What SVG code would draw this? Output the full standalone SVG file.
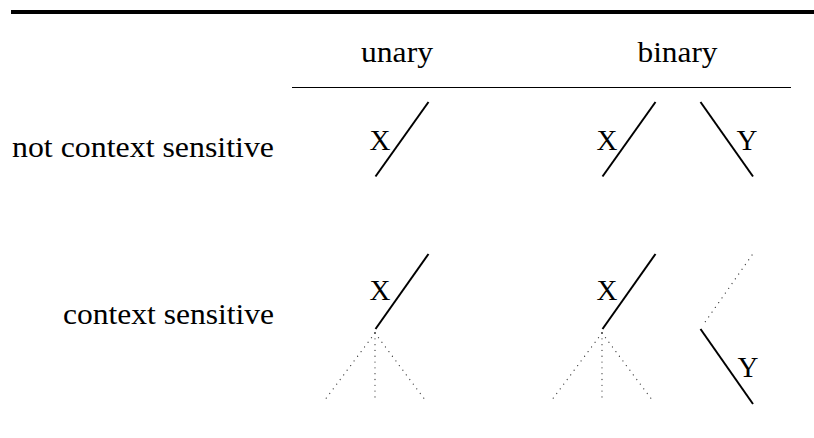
<svg xmlns="http://www.w3.org/2000/svg" width="814" height="438" viewBox="0 0 814 438">
<style>
text{font-family:"Liberation Serif","DejaVu Serif",serif;font-size:29px;fill:#000}
.solid{stroke:#000;stroke-width:2;fill:none;stroke-linecap:butt}
.dot{stroke:#000;stroke-width:1.3;fill:none;stroke-dasharray:0.01 5.8;stroke-linecap:round;opacity:0.75}
.rule{stroke:#000;fill:none}
</style>
<rect width="814" height="438" fill="#fff"/>
<g id="rules">
<line class="rule" x1="11" y1="12" x2="814" y2="12" stroke-width="4"/>
<line class="rule" x1="292" y1="87.5" x2="791" y2="87.5" stroke-width="1.2"/>
</g>
<g id="headers" font-family="Liberation Serif, serif">
<text x="397" y="62" text-anchor="middle" textLength="72" lengthAdjust="spacingAndGlyphs">unary</text>
<text x="677.5" y="62" text-anchor="middle" textLength="80" lengthAdjust="spacingAndGlyphs">binary</text>
</g>
<g id="row-labels" font-family="Liberation Serif, serif">
<text x="274" y="157" text-anchor="end" textLength="262" lengthAdjust="spacingAndGlyphs">not context sensitive</text>
<text x="274" y="324" text-anchor="end" textLength="211" lengthAdjust="spacingAndGlyphs">context sensitive</text>
</g>
<g id="labels" font-family="Liberation Serif, serif">
<text x="380" y="150" text-anchor="middle">X</text>
<text x="607" y="150" text-anchor="middle">X</text>
<text x="747" y="150" text-anchor="middle">Y</text>
<text x="380" y="300" text-anchor="middle">X</text>
<text x="607" y="300" text-anchor="middle">X</text>
<text x="748" y="377" text-anchor="middle">Y</text>
</g>
<g id="connectors">
<line class="solid" x1="375.5" y1="176.5" x2="428.5" y2="102"/>
<line class="solid" x1="602.5" y1="176.5" x2="655.5" y2="102"/>
<line class="solid" x1="700.5" y1="102" x2="753" y2="176.5"/>
<line class="solid" x1="375.5" y1="329" x2="428.5" y2="254"/>
<line class="solid" x1="602.5" y1="329" x2="655.5" y2="254"/>
<line class="solid" x1="700.5" y1="329" x2="753" y2="404"/>
<line class="dot" x1="375" y1="333" x2="323" y2="402.5"/>
<line class="dot" x1="375" y1="333" x2="375" y2="401"/>
<line class="dot" x1="375" y1="333" x2="427" y2="402.5"/>
<line class="dot" x1="602" y1="333" x2="550" y2="402.5"/>
<line class="dot" x1="602" y1="333" x2="602" y2="401"/>
<line class="dot" x1="602" y1="333" x2="654" y2="402.5"/>
<line class="dot" x1="752" y1="255" x2="703" y2="325"/>
</g>
</svg>
